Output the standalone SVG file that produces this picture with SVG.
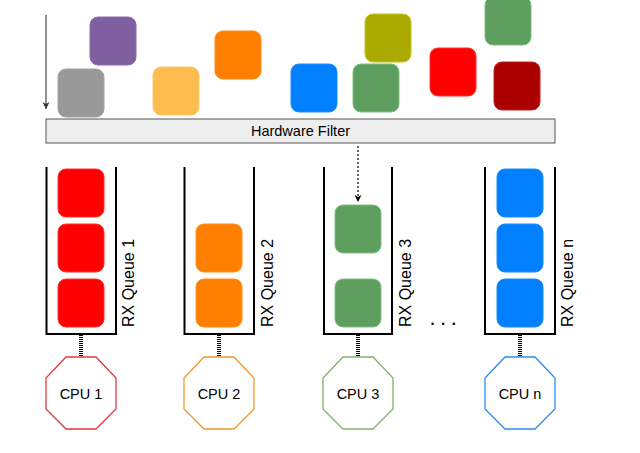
<svg xmlns="http://www.w3.org/2000/svg" width="640" height="453" viewBox="0 0 640 453">
<defs>
<style>
.pk{stroke-width:1;rx:8;ry:8}
.wall{fill:none;stroke:#000;stroke-width:2}
.lbl{font-family:"Liberation Sans",Arial,sans-serif;font-size:16px;fill:#000}
.cpu{fill:#fff;stroke-width:1.3}
.ct{font-family:"Liberation Sans",Arial,sans-serif;font-size:14.5px;fill:#000;text-anchor:middle}
.link{stroke:#000;stroke-width:4;stroke-dasharray:1 1;fill:none}
</style>
<marker id="ah" viewBox="0 0 10 10" refX="10" refY="5" markerWidth="7" markerHeight="7" orient="auto" markerUnits="userSpaceOnUse">
<path d="M0,0 L10,5 L0,10 L3,5 Z" fill="#000"/>
</marker>
<marker id="ahg" viewBox="0 0 10 10" refX="10" refY="5" markerWidth="7" markerHeight="7" orient="auto" markerUnits="userSpaceOnUse">
<path d="M0,0 L10,5 L0,10 L3,5 Z" fill="#333"/>
</marker>
</defs>
<rect width="640" height="453" fill="#fff"/>

<g id="packets">
<rect class="pk" x="90" y="17" width="46" height="48" fill="#7f5fa0" stroke="#8a6cac"/>
<rect class="pk" x="58" y="69" width="46" height="48" fill="#999999" stroke="#a3a3a3"/>
<rect class="pk" x="153" y="67" width="46" height="48" fill="#fcbc4e" stroke="#fdc868"/>
<rect class="pk" x="215" y="31" width="46" height="48" fill="#ff8000" stroke="#ff8d1a"/>
<rect class="pk" x="291" y="64" width="46" height="48" fill="#007fff" stroke="#1a8cff"/>
<rect class="pk" x="353" y="64" width="46" height="48" fill="#5e9e5e" stroke="#7cc07c"/>
<rect class="pk" x="365" y="14" width="46" height="48" fill="#aaaa00" stroke="#c4c41a"/>
<rect class="pk" x="430" y="48" width="46" height="48" fill="#ff0000" stroke="#ff3030"/>
<rect class="pk" x="485" y="-3" width="46" height="48" fill="#5e9e5e" stroke="#7cc07c"/>
<rect class="pk" x="494" y="62" width="46" height="48" fill="#aa0000" stroke="#c02020"/>
</g>

<g id="hardware-filter">
<rect x="46" y="119" width="509" height="24" fill="#eeeeee" stroke="#555555" stroke-width="1"/>
<text x="300.5" y="136" font-family="Liberation Sans, Arial, sans-serif" font-size="14.5" text-anchor="middle" fill="#000">Hardware Filter</text>
</g>

<g id="queue1">
<path class="wall" d="M46.5,167 V334 H116 V167"/>
<rect class="pk" x="58" y="169" width="46" height="48" fill="#ff0000" stroke="#ff3030"/>
<rect class="pk" x="58" y="224" width="46" height="48" fill="#ff0000" stroke="#ff3030"/>
<rect class="pk" x="58" y="279" width="46" height="48" fill="#ff0000" stroke="#ff3030"/>
<text class="lbl" transform="translate(134,327) rotate(-90)">RX Queue 1</text>
</g>

<g id="queue2">
<path class="wall" d="M184.5,167 V334 H254 V167"/>
<rect class="pk" x="196" y="224" width="46" height="48" fill="#ff8000" stroke="#ff8d1a"/>
<rect class="pk" x="196" y="279" width="46" height="48" fill="#ff8000" stroke="#ff8d1a"/>
<text class="lbl" transform="translate(272.5,327) rotate(-90)">RX Queue 2</text>
</g>

<g id="queue3">
<path class="wall" d="M324,167 V334 H392 V167"/>
<rect class="pk" x="335" y="205" width="46" height="48" fill="#5e9e5e" stroke="#7cc07c"/>
<rect class="pk" x="335" y="279" width="46" height="48" fill="#5e9e5e" stroke="#7cc07c"/>
<text class="lbl" transform="translate(410.5,327) rotate(-90)">RX Queue 3</text>
</g>

<g id="ellipsis">
<text x="429.5" y="324.5" font-family="Liberation Sans, Arial, sans-serif" font-size="22" letter-spacing="4.5" fill="#000">...</text>
</g>

<g id="queuen">
<path class="wall" d="M485,167 V334 H555 V167"/>
<rect class="pk" x="497" y="169" width="46" height="48" fill="#007fff" stroke="#1a8cff"/>
<rect class="pk" x="497" y="224" width="46" height="48" fill="#007fff" stroke="#1a8cff"/>
<rect class="pk" x="497" y="279" width="46" height="48" fill="#007fff" stroke="#1a8cff"/>
<text class="lbl" transform="translate(573,327) rotate(-90)">RX Queue n</text>
</g>

<g id="cpu1">
<polygon class="cpu" stroke="#e0383c" points="66,357 96,357 116,378 116,409 96,429 66,429 46,409 46,378"/>
<text class="ct" x="81" y="399">CPU 1</text>
</g>
<g id="cpu2">
<polygon class="cpu" stroke="#f0982c" points="204,357 234,357 254,378 254,409 234,429 204,429 184,409 184,378"/>
<text class="ct" x="219" y="399">CPU 2</text>
</g>
<g id="cpu3">
<polygon class="cpu" stroke="#82b366" points="343,357 373,357 393,378 393,409 373,429 343,429 323,409 323,378"/>
<text class="ct" x="358" y="399">CPU 3</text>
</g>
<g id="cpun">
<polygon class="cpu" stroke="#2f8ceb" points="505,357 535,357 555,378 555,409 535,429 505,429 485,409 485,378"/>
<text class="ct" x="520" y="399">CPU n</text>
</g>

<g id="connectors">
<line x1="46" y1="15" x2="46" y2="109" stroke="#444" stroke-width="1.2" marker-end="url(#ahg)"/>
<line x1="358" y1="146" x2="358" y2="202" stroke="#000" stroke-width="1.2" stroke-dasharray="2 2" marker-end="url(#ah)"/>
<line class="link" x1="81" y1="335" x2="81" y2="357"/>
<line class="link" x1="219" y1="335" x2="219" y2="357"/>
<line class="link" x1="358" y1="335" x2="358" y2="357"/>
<line class="link" x1="520" y1="335" x2="520" y2="357"/>
</g>
</svg>
